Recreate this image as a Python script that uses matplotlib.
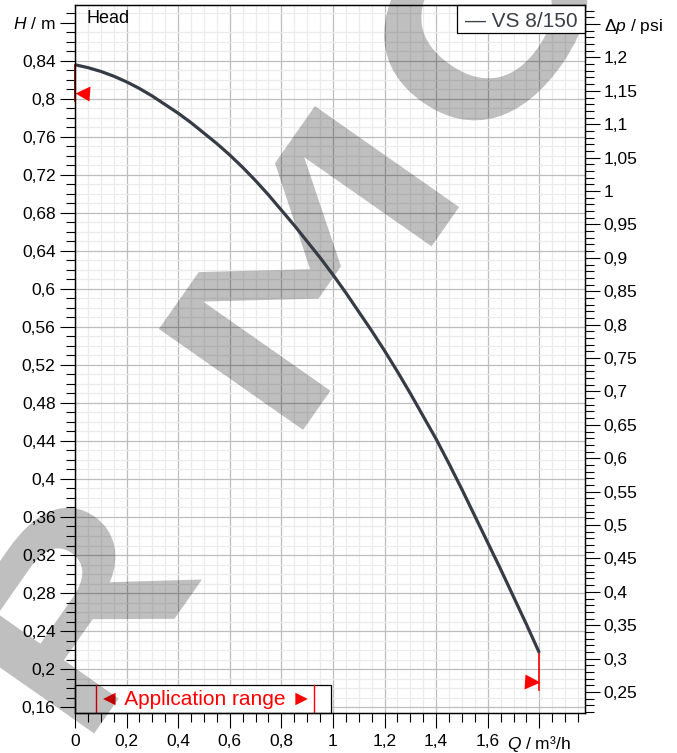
import matplotlib
matplotlib.use("Agg")
import matplotlib.pyplot as plt
from matplotlib.ticker import MultipleLocator
from matplotlib.textpath import TextPath
from matplotlib.patches import PathPatch, Rectangle
from matplotlib.font_manager import FontProperties
from matplotlib.transforms import Affine2D

plt.rcParams['font.family'] = ['Liberation Sans', 'DejaVu Sans']
plt.rcParams['mathtext.fontset'] = 'custom'
plt.rcParams['mathtext.rm'] = 'Liberation Sans'
plt.rcParams['mathtext.it'] = 'Liberation Sans:italic'

# ---------------- data ----------------
series_name = "VS 8/150"
flow = [0.00, 0.05, 0.10, 0.15, 0.20, 0.25, 0.30, 0.35, 0.40, 0.45,
        0.50, 0.55, 0.60, 0.65, 0.70, 0.75, 0.80, 0.85, 0.90, 0.95,
        1.00, 1.05, 1.10, 1.15, 1.20, 1.25, 1.30, 1.35, 1.40, 1.45,
        1.50, 1.55, 1.60, 1.65, 1.70, 1.75, 1.80]
head = [0.836, 0.833, 0.829, 0.824, 0.818, 0.811, 0.803, 0.794, 0.785, 0.775,
        0.764, 0.753, 0.741, 0.728, 0.714, 0.699, 0.683, 0.667, 0.650, 0.633,
        0.615, 0.596, 0.576, 0.556, 0.535, 0.513, 0.490, 0.466, 0.442, 0.416,
        0.389, 0.361, 0.333, 0.305, 0.276, 0.247, 0.217]

x_ticks = [0.0, 0.2, 0.4, 0.6, 0.8, 1.0, 1.2, 1.4, 1.6, 1.8]
x_tick_labels = ["0", "0,2", "0,4", "0,6", "0,8", "1", "1,2", "1,4", "1,6", "$Q$ / m³/h"]

h_ticks = [0.16, 0.20, 0.24, 0.28, 0.32, 0.36, 0.40, 0.44, 0.48, 0.52, 0.56,
           0.60, 0.64, 0.68, 0.72, 0.76, 0.80, 0.84, 0.88]
h_tick_labels = ["0,16", "0,2", "0,24", "0,28", "0,32", "0,36", "0,4", "0,44", "0,48",
                 "0,52", "0,56", "0,6", "0,64", "0,68", "0,72", "0,76", "0,8", "0,84",
                 "$H$ / m"]

p_ticks = [0.25, 0.30, 0.35, 0.40, 0.45, 0.50, 0.55, 0.60, 0.65, 0.70, 0.75, 0.80,
           0.85, 0.90, 0.95, 1.00, 1.05, 1.10, 1.15, 1.20, 1.25]
p_tick_labels = ["0,25", "0,3", "0,35", "0,4", "0,45", "0,5", "0,55", "0,6", "0,65",
                 "0,7", "0,75", "0,8", "0,85", "0,9", "0,95", "1", "1,05", "1,1",
                 "1,15", "1,2", "Δ$p$ / psi"]

M_TO_PSI = 1.42233
app_range = (0.081, 0.927)
start_marker_h = 0.806
end_marker_h = 0.186

# ---------------- layout ----------------
W, H = 677, 753
fig = plt.figure(figsize=(W / 100, H / 100), dpi=100)
ax = fig.add_axes([75 / W, 40 / H, 510 / W, 708 / H])
XMAX, YMIN, YMAX = 1.977, 0.1537, 0.8989

CURVE = '#353c45'

ax.set_axisbelow(True)
ax.set_xticks(x_ticks, x_tick_labels)
ax.set_yticks(h_ticks, h_tick_labels)
ax.xaxis.set_minor_locator(MultipleLocator(0.05))
ax.yaxis.set_minor_locator(MultipleLocator(0.01))
ax.grid(which='major', color='#bdbdbd', lw=0.9)
ax.grid(which='minor', color='#ebebeb', lw=0.9)
ax.yaxis.get_major_ticks()[-1].gridline.set_visible(False)
ax.tick_params(which='major', direction='out', length=10.5, width=0.8,
               labelsize=12.5, pad=3.5, colors='black')
ax.tick_params(which='minor', direction='out', length=6.5, width=0.8)
ax.tick_params(axis='x', which='major', pad=4.5)
for s in ax.spines.values():
    s.set_linewidth(0.9)
    s.set_color('black')

# curve
ax.plot(flow, head, color=CURVE, lw=2.3, zorder=4, solid_capstyle='butt')

# red range markers
ax.plot([flow[0], flow[0]], [head[0], start_marker_h - 0.008], color='#b00000',
        lw=1.3, zorder=2.6, clip_on=False)
ax.plot([flow[-1], flow[-1]], [head[-1], end_marker_h - 0.008], color='red',
        lw=1.2, zorder=2.6)
ax.plot([flow[0] + 7.5 / 258], [start_marker_h], marker='<', ms=10.8, color='red',
        mec='none', ls='none', zorder=2.7, clip_on=False)
ax.plot([flow[-1] - 7.5 / 258], [end_marker_h], marker='>', ms=10.8, color='red',
        mec='none', ls='none', zorder=2.7)

# application range box
box_top = 0.1832
ax.add_patch(Rectangle((0, YMIN), 0.992, box_top - YMIN, fc='white', ec='black',
                       lw=0.9, zorder=2.2, clip_on=False))
for xr in app_range:
    ax.plot([xr, xr], [YMIN, box_top], color='red', lw=1.0, zorder=2.3)
ax.text(sum(app_range) / 2, 0.162, '◄ Application range ►', color='red', fontsize=15,
        ha='center', va='baseline', zorder=2.4)

# head label
ax.text(0.043, 0.88, 'Head', fontsize=13, ha='left', va='baseline', zorder=5)

# legend box
lx0 = 1.4806
ax.add_patch(Rectangle((lx0, 0.8695), XMAX - lx0, YMAX - 0.8695, fc='white',
                       ec='black', lw=0.9, zorder=5, clip_on=False))
ax.text((lx0 + XMAX) / 2, 0.876, '— ' + series_name, fontsize=15, color='#3a3f47',
        ha='center', va='baseline', zorder=6)

ax.set_xlim(0, XMAX)
ax.set_ylim(YMIN, YMAX)

# right axis
ax2 = ax.twinx()
ax2.set_ylim(YMIN * M_TO_PSI, YMAX * M_TO_PSI)
ax2.set_yticks(p_ticks, p_tick_labels)
ax2.yaxis.set_minor_locator(MultipleLocator(0.01))
ax2.tick_params(which='major', direction='out', length=11, width=0.8,
                labelsize=12.5, pad=2.5)
ax2.tick_params(which='minor', direction='out', length=6.5, width=0.8)
for s in ax2.spines.values():
    s.set_linewidth(0.9)

# watermark (decorative letters)
def add_letter(ch, cx, cy, wpx, hpx, family, angle=55, weight='bold'):
    prop = FontProperties(family=family, weight=weight)
    tp = TextPath((0, 0), ch, size=100, prop=prop)
    bb = tp.get_extents()
    tr = (Affine2D().translate(-(bb.x0 + bb.x1) / 2, -(bb.y0 + bb.y1) / 2)
          .scale(wpx / bb.width, hpx / bb.height).rotate_deg(angle)
          .translate(cx, H - cy).scale(1 / W, 1 / H) + fig.transFigure)
    ax.add_patch(PathPatch(tp, transform=tr, fc='black', ec='none', alpha=0.25,
                           zorder=3, clip_on=False))

add_letter('R', 76, 606, 188, 176, 'Liberation Sans')
add_letter('M', 309, 268, 272, 176, 'DejaVu Sans Mono', weight='normal')
add_letter('C', 484, 17, 210, 182, 'Liberation Sans')

fig.savefig('out.png', dpi=100)
